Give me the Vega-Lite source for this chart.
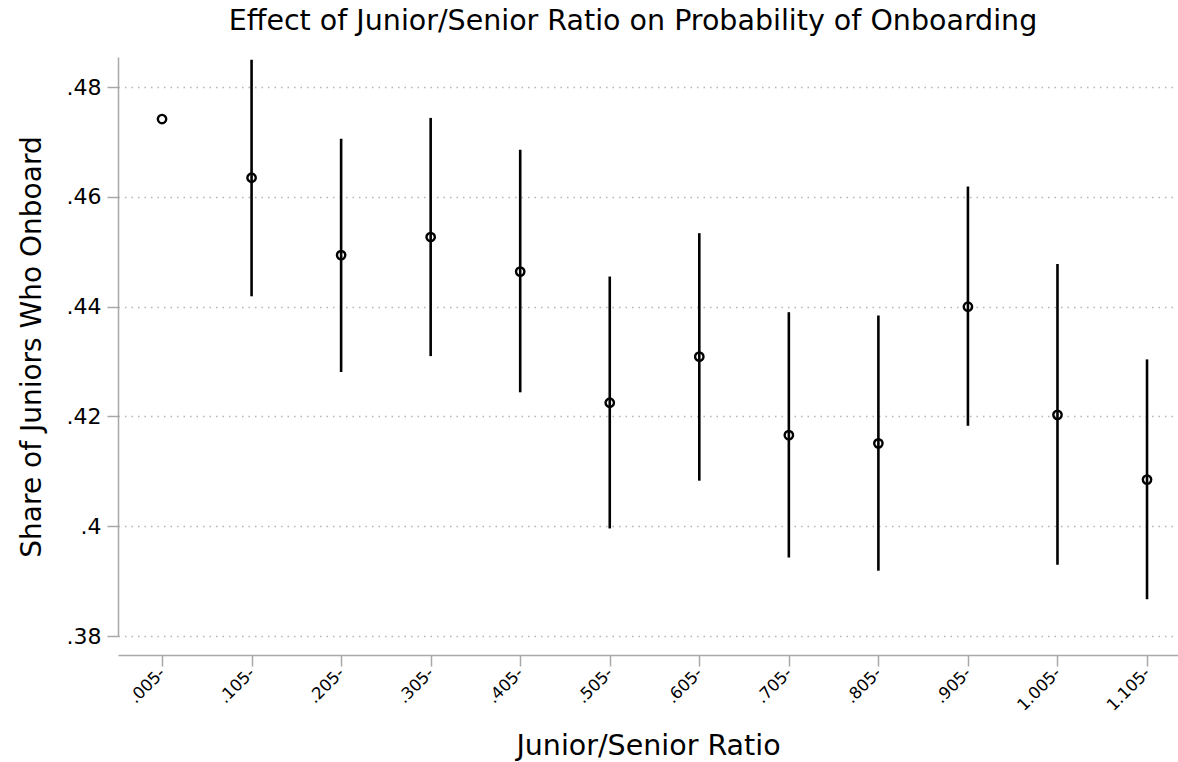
{
  "$schema": "https://vega.github.io/schema/vega-lite/v6.json",
  "autosize": {"type": "none"},
  "width": 1060,
  "height": 579,
  "padding": {"left": 118, "top": 57, "right": 0, "bottom": 126},
  "background": "white",
  "config": {
    "font": "DejaVu Sans",
    "view": {"stroke": null},
    "axis": {"labelColor": "black", "titleColor": "black", "titleFontWeight": "normal"}
  },
  "title": {
    "text": "Effect of Junior/Senior Ratio on Probability of Onboarding",
    "fontSize": 28.5,
    "fontWeight": "normal",
    "color": "black",
    "anchor": "middle",
    "dx": -15,
    "offset": 22
  },
  "data": {
    "values": [
      {"ratio": ".005-", "share": 0.4742, "lo": null, "hi": null},
      {"ratio": ".105-", "share": 0.4635, "lo": 0.4419, "hi": 0.4850},
      {"ratio": ".205-", "share": 0.4494, "lo": 0.4281, "hi": 0.4706},
      {"ratio": ".305-", "share": 0.4527, "lo": 0.4310, "hi": 0.4744},
      {"ratio": ".405-", "share": 0.4464, "lo": 0.4244, "hi": 0.4686},
      {"ratio": ".505-", "share": 0.4225, "lo": 0.3996, "hi": 0.4455},
      {"ratio": ".605-", "share": 0.4309, "lo": 0.4083, "hi": 0.4534},
      {"ratio": ".705-", "share": 0.4166, "lo": 0.3943, "hi": 0.4390},
      {"ratio": ".805-", "share": 0.4151, "lo": 0.3919, "hi": 0.4384},
      {"ratio": ".905-", "share": 0.4400, "lo": 0.4183, "hi": 0.4619},
      {"ratio": "1.005-", "share": 0.4203, "lo": 0.3930, "hi": 0.4478},
      {"ratio": "1.105-", "share": 0.4085, "lo": 0.3867, "hi": 0.4304}
    ]
  },
  "encoding": {
    "x": {
      "field": "ratio",
      "type": "ordinal",
      "sort": null,
      "scale": {
        "type": "point",
        "domain": [".005-", ".105-", ".205-", ".305-", ".405-", ".505-", ".605-", ".705-", ".805-", ".905-", "1.005-", "1.105-"],
        "padding": 0.4188,
        "align": 0.587
      },
      "axis": {
        "title": "Junior/Senior Ratio",
        "titleFontSize": 28.5,
        "titlePadding": 18,
        "labelAngle": -45,
        "labelAlign": "right",
        "labelBaseline": "middle",
        "labelFontSize": 16.5,
        "labelPadding": 4,
        "offset": 19,
        "tickSize": 11,
        "tickColor": "#a8a8a8",
        "domainColor": "#a8a8a8",
        "tickWidth": 1.5,
        "domainWidth": 1.5,
        "grid": false
      }
    }
  },
  "layer": [
    {
      "transform": [{"filter": "datum.lo != null"}],
      "mark": {"type": "rule", "color": "black", "strokeWidth": 2.6},
      "encoding": {
        "y": {
          "field": "lo",
          "type": "quantitative",
          "scale": {"domain": [0.38, 0.4855], "nice": false, "zero": false},
          "axis": {
            "title": "Share of Juniors Who Onboard",
            "titleFontSize": 28,
            "titlePadding": 20,
            "values": [0.38, 0.4, 0.42, 0.44, 0.46, 0.48],
            "labelExpr": "substring(format(datum.value, '.2~f'), 1)",
            "labelFontSize": 22,
            "labelPadding": 6,
            "tickSize": 11,
            "tickColor": "#a8a8a8",
            "domainColor": "#a8a8a8",
            "tickWidth": 1.5,
            "domainWidth": 1.5,
            "grid": true,
            "gridColor": "#b4b4b4",
            "gridDash": [1.5, 5],
            "gridWidth": 1.5
          }
        },
        "y2": {"field": "hi"}
      }
    },
    {
      "mark": {"type": "point", "filled": false, "color": "black", "strokeWidth": 2.4, "size": 70, "opacity": 1},
      "encoding": {
        "y": {"field": "share", "type": "quantitative"}
      }
    }
  ]
}
